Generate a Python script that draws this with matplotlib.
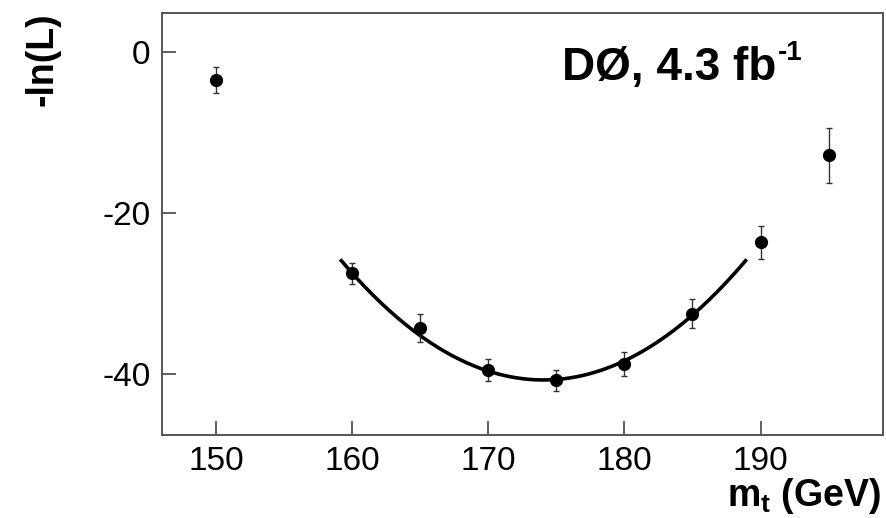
import numpy as np
import matplotlib
matplotlib.use("Agg")
import matplotlib.pyplot as plt

# Data
mass = [150, 160, 165, 170, 175, 180, 185, 190, 195]
neg_lnL = [-3.45, -27.5, -34.25, -39.5, -40.8, -38.8, -32.5, -23.6, -12.8]
err = [1.6, 1.3, 1.75, 1.35, 1.35, 1.5, 1.8, 2.05, 3.45]

# Parabolic fit parameters
fit_center = 174.05
fit_min = -40.75
fit_curv = 0.0673
fit_lo, fit_hi = 159.2, 188.9

xticks = [150, 160, 170, 180, 190]
yticks = [0, -20, -40]

plt.rcParams['font.family'] = ['Liberation Sans', 'DejaVu Sans']
plt.rcParams['mathtext.fontset'] = 'custom'
plt.rcParams['mathtext.rm'] = 'Liberation Sans'
plt.rcParams['mathtext.bf'] = 'Liberation Sans:bold'
plt.rcParams['mathtext.it'] = 'Liberation Sans:italic'

fig = plt.figure(figsize=(8.87, 5.18), dpi=100)
ax = fig.add_axes([0.1823, 0.1602, 0.9955 - 0.1823, 0.9755 - 0.1602])

xf = np.linspace(fit_lo, fit_hi, 200)
yf = fit_curv * (xf - fit_center) ** 2 + fit_min
ax.plot(xf, yf, color='black', lw=2.6, zorder=2)

ax.errorbar(mass, neg_lnL, yerr=err, fmt='o', color='black', ms=8.5,
            ecolor='#333333', elinewidth=1.0, capsize=2.5, capthick=1.0, zorder=3)

ax.set_xlim(146, 199)
ax.set_ylim(-47.6, 4.95)
ax.set_xticks(xticks)
ax.set_yticks(yticks)
ax.set_xticklabels([str(t) for t in xticks])
ax.set_yticklabels([str(t) for t in yticks])
ax.tick_params(direction='in', length=10, width=1.2, color='#444444',
               labelsize=24, pad=8)
for s in ax.spines.values():
    s.set_color('#555555')
    s.set_linewidth(1.4)

ax.set_ylabel('-ln(L)', fontsize=27, fontweight='bold', loc='top', labelpad=30)
ax.set_xlabel(r'$\mathbf{m_t}$ (GeV)', fontsize=27, fontweight='bold')
ax.xaxis.label.set_ha('right')
ax.xaxis.label.set_va('baseline')
ax.xaxis.set_label_coords(0.997, -0.168)

t = ax.text(0.555, 0.8406, 'DØ, 4.3 fb', transform=ax.transAxes,
            fontsize=33, fontweight='bold', ha='left', va='baseline')
ax.annotate('-1', xy=(1.0, 1.0), xycoords=t, xytext=(1, 4),
            textcoords='offset points', fontsize=20, fontweight='bold',
            ha='left', va='top')

fig.savefig('out.png', dpi=100)
